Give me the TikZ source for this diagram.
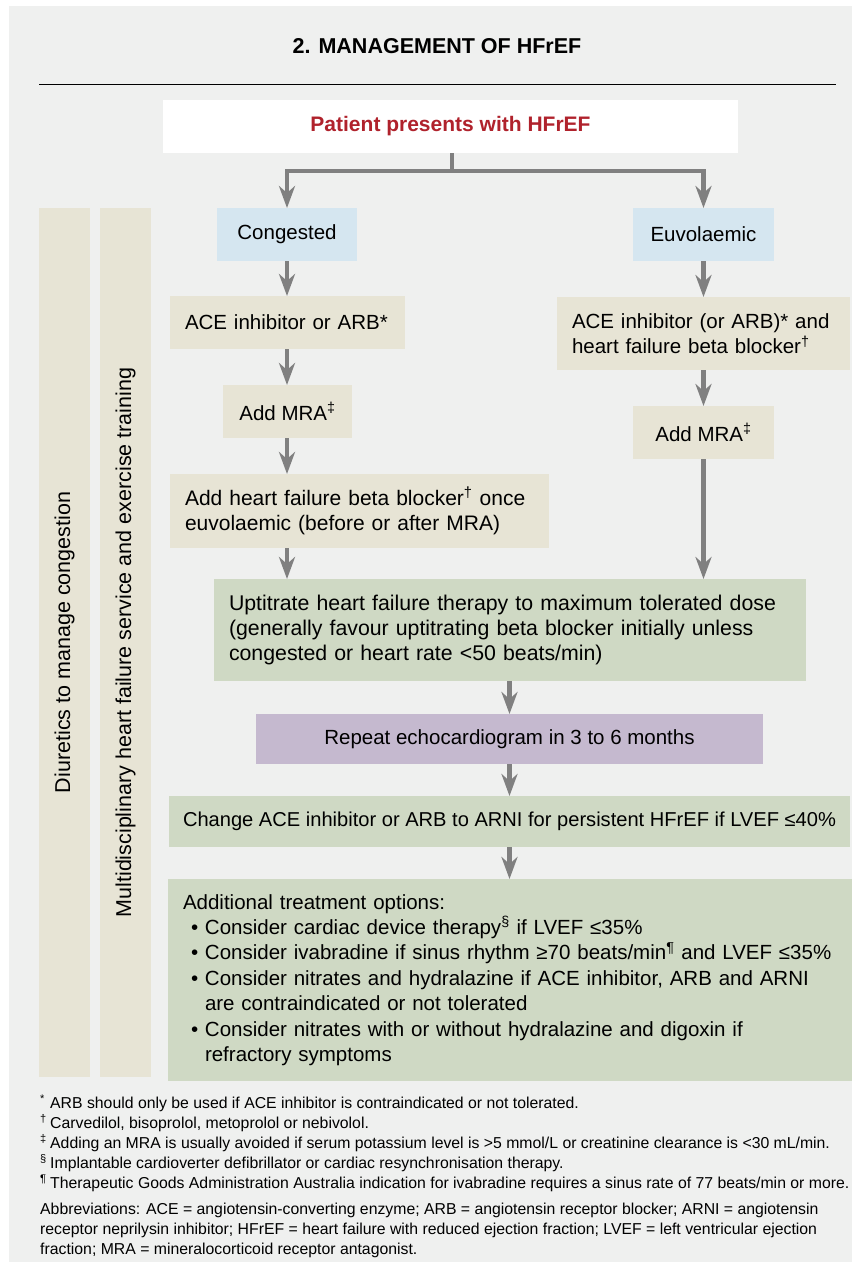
\documentclass[tikz,border=0pt]{standalone}
\usepackage{fontspec}
\setmainfont{Liberation Sans}
\usetikzlibrary{arrows.meta}
\definecolor{bg}{HTML}{EFF0EF}
\definecolor{tanc}{HTML}{E7E4D5}
\definecolor{bluec}{HTML}{D5E6F0}
\definecolor{greenc}{HTML}{CFD9C4}
\definecolor{purplec}{HTML}{C5B9CF}
\definecolor{redc}{HTML}{B0222C}
\definecolor{arrowc}{HTML}{808080}
\newcommand{\bodyfont}{\fontsize{20.5}{25.4}\selectfont}
\newcommand{\notefont}{\fontsize{15.8}{20}\selectfont}
\begin{document}
\begin{tikzpicture}[x=1pt,y=-1pt,
  box/.style={draw=none, inner sep=0pt, outer sep=0pt, anchor=north west, font=\bodyfont, text=black},
  lbox/.style={box, align=left, inner xsep=15pt},
  conn/.style={draw=arrowc, line width=4.5pt},
  arr/.style={conn, -{Stealth[length=22pt,width=16pt,inset=7pt]}},
  sidebar/.style={fill=tanc, inner sep=0pt, outer sep=0pt, anchor=north west, minimum width=51pt, minimum height=869pt}
]
\useasboundingbox (0,0) rectangle (856,1262);
\fill[bg] (9,6) rectangle (852,1262);

% title
\node[font=\fontsize{21.5}{26}\selectfont\bfseries] (title) at (437,46.5) {2. MANAGEMENT OF HFrEF};
\draw[line width=1.5pt] (39,84.5) coordinate (rl) -- (836,84.5) coordinate (rr);

% side bars
\node[sidebar] (bar1) at (39,208) {};
\node[sidebar] (bar2) at (100,208) {};
\node[rotate=90, font=\fontsize{21.5}{25}\selectfont] (diur) at (bar1.center) {Diuretics to manage congestion};
\node[rotate=90, font=\fontsize{21.5}{25}\selectfont] (multi) at (bar2.center) {Multidisciplinary heart failure service and exercise training};

% boxes
\node[box, fill=white, minimum width=575pt, minimum height=53pt, font=\fontsize{21}{25}\selectfont\bfseries, text=redc] (pat) at (163,100) {Patient presents with HFrEF};
\node[box, fill=bluec, minimum width=140pt, minimum height=53pt] (cong) at (217,208) {Congested};
\node[box, fill=bluec, minimum width=141pt, minimum height=53pt] (euvo) at (633,208) {Euvolaemic};
\node[lbox, fill=tanc, text width=205pt, minimum height=53pt] (ace1) at (170,296) {ACE inhibitor or ARB*};
\node[box, fill=tanc, minimum width=129pt, minimum height=53pt] (mra1) at (223,385) {Add MRA\textsuperscript{‡}};
\node[lbox, fill=tanc, text width=349pt, minimum height=74pt, font=\fontsize{21}{25.4}\selectfont] (bb1) at (170,474) {Add heart failure beta blocker\textsuperscript{†} once\\euvolaemic (before or after MRA)};
\node[lbox, fill=tanc, text width=263pt, minimum height=73pt] (ace2) at (557,297) {ACE inhibitor (or ARB)* and\\heart failure beta blocker\textsuperscript{†}};
\node[box, fill=tanc, minimum width=141pt, minimum height=53pt] (mra2) at (633,406) {Add MRA\textsuperscript{‡}};
\node[lbox, fill=greenc, text width=562pt, minimum height=102pt, font=\fontsize{21.3}{25.4}\selectfont] (upt) at (214,579) {Uptitrate heart failure therapy to maximum tolerated dose\\(generally favour uptitrating beta blocker initially unless\\congested or heart rate <50 beats/min)};
\node[box, fill=purplec, minimum width=507pt, minimum height=50pt] (echo) at (256,714) {Repeat echocardiogram in 3 to 6 months};
\node[box, fill=greenc, minimum width=681pt, minimum height=51pt, font=\fontsize{20.1}{25}\selectfont] (chg) at (169,796) {Change ACE inhibitor or ARB to ARNI for persistent HFrEF if LVEF ≤40\%};
\node[lbox, fill=greenc, text width=654pt, minimum height=202pt] (add) at (168,879) {Additional treatment options:\\
\hspace*{8pt}\makebox[14pt][l]{•}Consider cardiac device therapy\textsuperscript{§} if LVEF ≤35\%\\
\hspace*{8pt}\makebox[14pt][l]{•}Consider ivabradine if sinus rhythm ≥70 beats/min\textsuperscript{¶} and LVEF ≤35\%\\
\hspace*{8pt}\makebox[14pt][l]{•}Consider nitrates and hydralazine if ACE inhibitor, ARB and ARNI\\
\hspace*{22pt}are contraindicated or not tolerated\\
\hspace*{8pt}\makebox[14pt][l]{•}Consider nitrates with or without hydralazine and digoxin if\\
\hspace*{22pt}refractory symptoms};

% connectors
\draw[conn] (pat.south -| 452,0) -- (452,171) coordinate (j);
\draw[arr] (j) -| (cong.north);
\draw[arr] (j) -| (euvo.north);
\draw[arr] (cong.south) -- (cong.south |- ace1.north);
\draw[arr] (cong.south |- ace1.south) -- (cong.south |- mra1.north);
\draw[arr] (cong.south |- mra1.south) -- (cong.south |- bb1.north);
\draw[arr] (cong.south |- bb1.south) -- (cong.south |- upt.north);
\draw[arr] (euvo.south) -- (euvo.south |- ace2.north);
\draw[arr] (euvo.south |- ace2.south) -- (euvo.south |- mra2.north);
\draw[arr] (euvo.south |- mra2.south) -- (euvo.south |- upt.north);
\draw[arr] (echo.north |- upt.south) -- (echo.north);
\draw[arr] (echo.south) -- (echo.south |- chg.north);
\draw[arr] (echo.south |- chg.south) -- (echo.south |- add.north);

% footnotes
\node[anchor=north west, align=left, inner sep=0pt, font=\notefont] (notes) at (40,1095) {%
\makebox[10pt][l]{\textsuperscript{*}}ARB should only be used if ACE inhibitor is contraindicated or not tolerated.\\
\makebox[10pt][l]{\textsuperscript{†}}Carvedilol, bisoprolol, metoprolol or nebivolol.\\
\makebox[10pt][l]{\textsuperscript{‡}}Adding an MRA is usually avoided if serum potassium level is >5 mmol/L or creatinine clearance is <30 mL/min.\\
\makebox[10pt][l]{\textsuperscript{§}}Implantable cardioverter defibrillator or cardiac resynchronisation therapy.\\
\makebox[10pt][l]{\textsuperscript{¶}}Therapeutic Goods Administration Australia indication for ivabradine requires a sinus rate of 77 beats/min or more.};
\node[anchor=north west, align=left, inner sep=0pt, font=\notefont] (abbr) at (40,1203) {%
Abbreviations: ACE = angiotensin-converting enzyme; ARB = angiotensin receptor blocker; ARNI = angiotensin\\
receptor neprilysin inhibitor; HFrEF = heart failure with reduced ejection fraction; LVEF = left ventricular ejection\\
fraction; MRA = mineralocorticoid receptor antagonist.};
\end{tikzpicture}
\end{document}
